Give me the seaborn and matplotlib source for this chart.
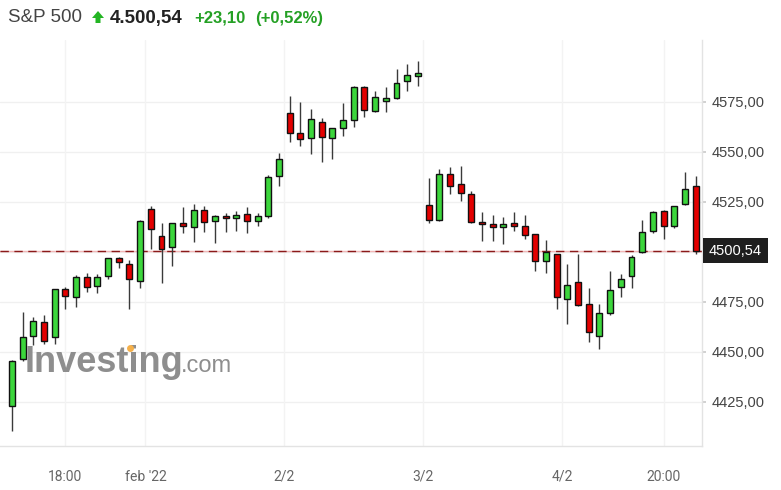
# S&P 500 intraday candlestick chart (30 min bars, 31 Jan - 4 Feb 2022)

import numpy as np
import pandas as pd
import matplotlib
matplotlib.use("Agg")
import matplotlib.pyplot as plt
import seaborn as sns
from matplotlib.ticker import FuncFormatter
from matplotlib.lines import Line2D
from matplotlib.patches import Polygon

# candle values
opens = [4423.0, 4446.2, 4458.0, 4464.8, 4457.3, 4481.2, 4477.3, 4487.4, 4483.0, 4488.0,
         4496.7, 4494.0, 4485.5, 4521.2, 4508.0, 4502.2, 4514.3, 4512.3, 4521.0, 4515.5,
         4518.0, 4516.7, 4518.8, 4515.3, 4517.8, 4537.8, 4569.3, 4559.3, 4556.7, 4565.0,
         4556.7, 4561.7, 4566.0, 4582.5, 4570.3, 4575.3, 4576.7, 4585.3, 4588.0, 4523.2,
         4515.8, 4538.7, 4533.7, 4528.7, 4515.0, 4513.8, 4512.2, 4514.5, 4513.0, 4508.7,
         4495.5, 4498.7, 4476.5, 4484.8, 4473.7, 4457.8, 4469.5, 4482.2, 4487.8, 4499.8,
         4510.3, 4520.5, 4512.7, 4523.7, 4533.0]
highs = [4446.0, 4470.0, 4467.2, 4468.5, 4481.5, 4482.5, 4488.4, 4489.2, 4488.7, 4497.0,
         4497.2, 4495.8, 4516.0, 4522.8, 4514.2, 4514.5, 4522.3, 4524.0, 4522.8, 4518.5,
         4519.2, 4520.2, 4522.2, 4519.5, 4538.5, 4549.5, 4577.8, 4574.7, 4571.5, 4567.0,
         4562.0, 4574.2, 4583.0, 4583.0, 4580.2, 4582.2, 4591.3, 4594.0, 4595.2, 4536.7,
         4541.2, 4542.2, 4542.8, 4530.3, 4519.7, 4518.5, 4517.2, 4519.7, 4518.5, 4509.0,
         4505.8, 4499.0, 4493.8, 4499.0, 4481.7, 4473.8, 4490.2, 4489.0, 4498.2, 4516.0,
         4520.3, 4520.8, 4523.0, 4539.7, 4537.8]
lows = [4410.5, 4445.5, 4453.3, 4453.7, 4453.7, 4471.4, 4472.5, 4480.0, 4479.2, 4486.2,
        4492.0, 4471.2, 4481.7, 4501.2, 4484.2, 4492.8, 4509.2, 4504.7, 4509.8, 4504.2,
        4509.8, 4510.3, 4509.3, 4513.0, 4516.7, 4533.0, 4555.0, 4553.0, 4548.7, 4544.8,
        4546.2, 4558.0, 4562.5, 4567.3, 4570.0, 4569.8, 4576.5, 4580.3, 4583.0, 4514.2,
        4515.5, 4528.7, 4525.5, 4514.5, 4505.5, 4505.5, 4503.7, 4510.3, 4506.2, 4490.5,
        4489.2, 4471.2, 4463.7, 4473.0, 4454.7, 4451.2, 4468.5, 4477.5, 4481.8, 4499.5,
        4509.2, 4506.2, 4511.8, 4523.5, 4498.7]
closes = [4445.5, 4457.3, 4465.5, 4455.3, 4481.2, 4478.0, 4487.4, 4482.4, 4487.4, 4496.7,
          4494.8, 4486.2, 4515.5, 4511.5, 4501.2, 4514.3, 4513.0, 4520.7, 4514.7, 4518.0,
          4516.7, 4518.2, 4515.3, 4518.0, 4537.5, 4546.2, 4559.2, 4556.2, 4566.2, 4557.2,
          4561.8, 4565.7, 4582.5, 4571.0, 4577.3, 4576.7, 4584.3, 4588.2, 4589.3, 4516.0,
          4538.7, 4532.8, 4529.2, 4514.7, 4513.7, 4512.2, 4513.8, 4512.8, 4508.5, 4495.5,
          4500.0, 4477.3, 4483.5, 4473.5, 4459.7, 4469.3, 4480.7, 4486.2, 4497.5, 4510.0,
          4519.7, 4512.8, 4523.0, 4531.3, 4500.54]

last_price = 4500.54
y_ticks = [4425, 4450, 4475, 4525, 4550, 4575]
x_tick_pos = [5, 12.5, 25.5, 38.5, 51.5, 61]
x_tick_labels = ["18:00", "feb '22", "2/2", "3/2", "4/2", "20:00"]

df = pd.DataFrame({"open": opens, "high": highs, "low": lows, "close": closes})
df["idx"] = np.arange(len(df))
df["up"] = df["close"] >= df["open"]
df["body_low"] = df[["open", "close"]].min(axis=1)
df["body_h"] = (df["close"] - df["open"]).abs().clip(lower=0.9)

sns.set_theme(style="white")
plt.rcParams["font.family"] = ["Liberation Sans", "DejaVu Sans"]

W, H = 781, 490
fig = plt.figure(figsize=(W / 100, H / 100), dpi=100)
ax = fig.add_axes([0, 1 - 446 / H, 702 / W, (446 - 40) / H])


def px(x, y):
    # pixel position (from top left) -> figure fraction
    return (x / W, 1 - y / H)


# grid
for y in y_ticks + [4500]:
    ax.axhline(y, color="#f0f0f0", lw=1, zorder=0)
for x in x_tick_pos:
    ax.axvline(x, color="#f3f3f3", lw=1, zorder=0)

# watermark
fig.text(*px(25, 362), "Investing", fontsize=26, fontweight="bold",
         color="#8e8e8e", va="center", ha="left", zorder=0.5)
fig.text(*px(181, 366), ".com", fontsize=17, color="#8e8e8e",
         va="center", ha="left", zorder=0.5)
dx, dy = px(130, 348)
fig.add_artist(Line2D([dx], [dy], marker="o", markersize=5, color="#f5b04a",
                      markeredgewidth=0, transform=fig.transFigure, zorder=0.6))

# last price line
ax.axhline(last_price, color="#f2b8b8", lw=1, zorder=1)
ax.axhline(last_price, color="#8b1a1a", lw=1, ls=(0, (6, 4)), zorder=1.1)

# candles
ax.vlines(df["idx"], df["low"], df["high"], color="#3a3a3a", lw=1, zorder=2)
colors = np.where(df["up"], "#3cd63c", "#e30000")
ax.bar(df["idx"], df["body_h"], bottom=df["body_low"], width=0.56, color=colors,
       edgecolor="#111111", linewidth=1, zorder=3)

ax.set_xlim(-1.12, 64.6)
ax.set_ylim(4402.8, 4605.8)

ax.yaxis.tick_right()
ax.set_yticks(y_ticks)
ax.yaxis.set_major_formatter(FuncFormatter(lambda v, p: f"{v:.2f}".replace(".", ",")))
ax.set_xticks(x_tick_pos)
ax.set_xticklabels(x_tick_labels, fontfamily="Roboto")
ax.tick_params(axis="y", length=3, color="#cccccc", labelsize=10.5, labelcolor="#444444", pad=4)
ax.tick_params(axis="x", length=5, color="#dddddd", labelsize=10, labelcolor="#666666", pad=12)

for s in ["left", "top"]:
    ax.spines[s].set_visible(False)
for s in ["right", "bottom"]:
    ax.spines[s].set_color("#e3e3e3")
    ax.spines[s].set_linewidth(1)

# price box on the axis
ax.text(1.01, last_price, "4500,54", transform=ax.get_yaxis_transform(), ha="left",
        va="center", color="white", fontsize=10.5,
        bbox=dict(boxstyle="square,pad=0.38", fc="#1e1e1e", ec="none"))

# header
ty = 18
fig.text(*px(8, ty), "S&P 500", fontsize=13.5, color="#444444", va="center")
arrow = [(92, 18), (98, 11), (104, 18), (100.5, 18), (100.5, 23), (95.5, 23), (95.5, 18)]
fig.patches.append(Polygon([px(x, y) for x, y in arrow], closed=True,
                           transform=fig.transFigure, color="#23b523", lw=0))
fig.text(*px(110, ty), "4.500,54", fontsize=13.5, fontweight="bold", color="#222222", va="center")
fig.text(*px(194, ty), "+23,10", fontsize=12, fontweight="bold", color="#24a024", va="center")
fig.text(*px(255, ty), "(+0,52%)", fontsize=12, fontweight="bold", color="#24a024", va="center")

fig.savefig("out.png", dpi=100)
